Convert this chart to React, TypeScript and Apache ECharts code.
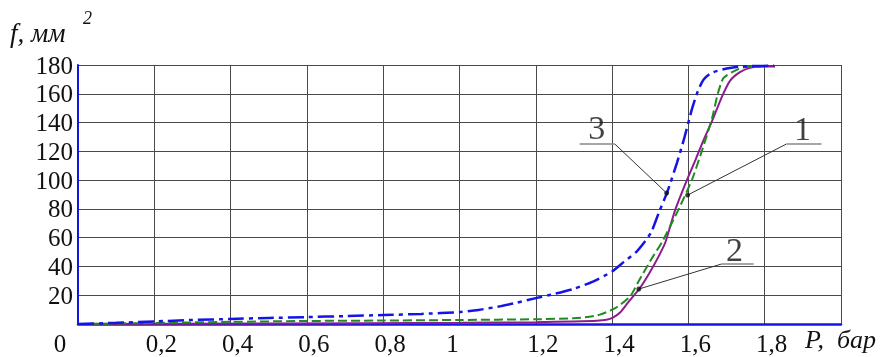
import React, { useEffect, useRef } from "react";
import * as echarts from "echarts";

// Curve data [P (bar), f (mm^2)]
const curve1: number[][] = [
  [0, 0], [0.5, 0.3], [1.0, 0.8], [1.2, 1.3], [1.3, 1.8], [1.36, 2.3], [1.385, 3], [1.402, 4.5],
  [1.421, 8], [1.442, 15], [1.473, 25], [1.499, 36], [1.522, 47], [1.54, 57], [1.565, 79],
  [1.596, 100], [1.62, 115], [1.64, 128], [1.662, 141], [1.688, 158], [1.709, 169],
  [1.735, 175], [1.761, 178], [1.79, 179], [1.827, 179],
];
const curve2: number[][] = [
  [0, 0], [0.2, 0.7], [0.4, 1.5], [0.6, 2.1], [0.8, 2.4], [1.0, 2.8], [1.2, 3.3], [1.3, 4],
  [1.34, 5], [1.368, 6.5], [1.408, 11], [1.447, 19], [1.468, 29], [1.505, 46], [1.531, 57],
  [1.573, 79], [1.609, 100], [1.635, 120], [1.662, 143], [1.677, 160], [1.692, 171],
  [1.725, 176.5], [1.75, 178.6], [1.79, 179],
];
const curve3: number[][] = [
  [0, 0], [0.1, 0.8], [0.2, 1.8], [0.3, 2.8], [0.4, 3.5], [0.5, 4.2], [0.6, 4.8], [0.7, 5.5],
  [0.8, 6.2], [0.9, 7], [1.0, 8.3], [1.05, 9.8], [1.1, 12], [1.15, 14.8], [1.2, 18], [1.25, 21],
  [1.3, 24.5], [1.35, 29.5], [1.4, 36.5], [1.43, 43], [1.463, 50], [1.485, 57], [1.503, 64],
  [1.522, 77], [1.545, 92], [1.57, 112], [1.59, 130], [1.61, 150], [1.625, 162], [1.64, 170],
  [1.66, 174.5], [1.7, 177.5], [1.74, 179], [1.825, 179.5],
];

// Annotation leaders: [dot, elbow, underline end] and label position (data coords)
const leaderNames = ["3", "1", "2"];
const leaderLines: number[][][] = [
  [[1.543, 91.0], [1.407, 125.1], [1.315, 125.1]],
  [[1.598, 89.6], [1.857, 125.1], [1.949, 125.1]],
  [[1.47, 24.3], [1.687, 41.7], [1.771, 41.7]],
];
const leaderLabelPos: number[][] = [
  [1.36, 136.9],
  [1.899, 136.2],
  [1.721, 52.1],
];

const X_MIN = 0;
const X_MAX = 2;
const X_STEP = 0.2;
const Y_MIN = 0;
const Y_MAX = 180;
const Y_STEP = 20;

const SERIF = "Liberation Serif";

export default function App() {
  const ref = useRef<HTMLDivElement>(null);
  useEffect(() => {
    if (!ref.current) return;
    const chart = echarts.init(ref.current, undefined, { renderer: "svg" });
    const series: any[] = [
      {
        type: "line",
        data: curve1,
        showSymbol: false,
        smooth: 0.2,
        lineStyle: { color: "#8e1b8e", width: 2 },
        z: 3,
      },
      {
        type: "line",
        data: curve2,
        showSymbol: false,
        smooth: 0.2,
        lineStyle: { color: "#1e8c1e", width: 2, type: [9, 4] },
        z: 3,
      },
      {
        type: "line",
        data: curve3,
        showSymbol: false,
        smooth: 0.2,
        lineStyle: { color: "#1414e6", width: 2.5, type: [16, 5, 4, 5] },
        z: 3,
      },
    ];
    leaderLines.forEach((pts) => {
      series.push({
        type: "line",
        data: pts.slice(0, 2),
        showSymbol: false,
        lineStyle: { color: "#333", width: 1 },
        z: 4,
        silent: true,
      });
      series.push({
        type: "line",
        data: pts.slice(1),
        showSymbol: false,
        lineStyle: { color: "#888", width: 1.5 },
        z: 4,
        silent: true,
      });
    });
    series.push({
      type: "scatter",
      data: leaderLines.map((p) => p[0]),
      symbol: "circle",
      symbolSize: 5,
      itemStyle: { color: "#111" },
      z: 5,
      silent: true,
    });
    series.push({
      type: "scatter",
      data: leaderLabelPos.map((p, i) => ({ value: p, name: leaderNames[i] })),
      symbolSize: 2,
      itemStyle: { color: "rgba(0,0,0,0)" },
      label: {
        show: true,
        position: "inside",
        formatter: "{b}",
        fontSize: 34,
        fontFamily: SERIF,
        color: "#111",
      },
      z: 5,
      silent: true,
    });

    chart.setOption({
      animation: false,
      grid: { left: 78, right: 47, top: 65, bottom: 33, containLabel: false },
      xAxis: {
        type: "value",
        min: X_MIN,
        max: X_MAX,
        interval: X_STEP,
        axisLine: { show: true, lineStyle: { color: "#1414e6", width: 2.5 } },
        axisTick: { show: false },
        splitLine: { show: true, lineStyle: { color: "#4a4a4a", width: 1 } },
        axisLabel: {
          margin: 7,
          fontSize: 25,
          fontFamily: SERIF,
          color: "#111",
          formatter: (v: number) => {
            if (Math.abs(v) < 1e-6) return "{z|0}";
            if (Math.abs(v - 2) < 1e-6) return "";
            if (Math.abs(v - 1) < 1e-6) return "{o|1}";
            return "{n|" + v.toFixed(1).replace(".", ",") + "}";
          },
          rich: {
            z: { fontSize: 25, fontFamily: SERIF, color: "#111", padding: [0, 36, 0, 0] },
            o: { fontSize: 25, fontFamily: SERIF, color: "#111", padding: [0, 14, 0, 0] },
            n: { fontSize: 25, fontFamily: SERIF, color: "#111", padding: [0, 0, 0, 14] },
          },
        },
      },
      yAxis: {
        type: "value",
        min: Y_MIN,
        max: Y_MAX,
        interval: Y_STEP,
        axisLine: { show: true, lineStyle: { color: "#1414e6", width: 2 } },
        axisTick: { show: false },
        splitLine: { show: true, lineStyle: { color: "#4a4a4a", width: 1 } },
        axisLabel: {
          margin: 5,
          fontSize: 25,
          fontFamily: SERIF,
          color: "#111",
          formatter: (v: number) => (v === 0 ? "" : String(v)),
        },
      },
      graphic: [
        {
          type: "text",
          left: 10,
          top: 19,
          style: {
            text: "f, мм",
            fontFamily: SERIF,
            fontSize: 27,
            fontStyle: "italic",
            fill: "#111",
          },
        },
        {
          type: "text",
          left: 83,
          top: 9,
          style: { text: "2", fontFamily: SERIF, fontSize: 18, fontStyle: "italic", fill: "#111" },
        },
        {
          type: "text",
          left: 805,
          top: 326,
          style: {
            text: "P,  бар",
            fontFamily: SERIF,
            fontSize: 26,
            fontStyle: "italic",
            fill: "#111",
          },
        },
      ],
      series,
    });
    return () => chart.dispose();
  }, []);
  return (
    <div style={{ fontFamily: SERIF }}>
      <div ref={ref} style={{ position: "fixed", left: 0, top: 0, width: 888, height: 357 }} />
    </div>
  );
}
